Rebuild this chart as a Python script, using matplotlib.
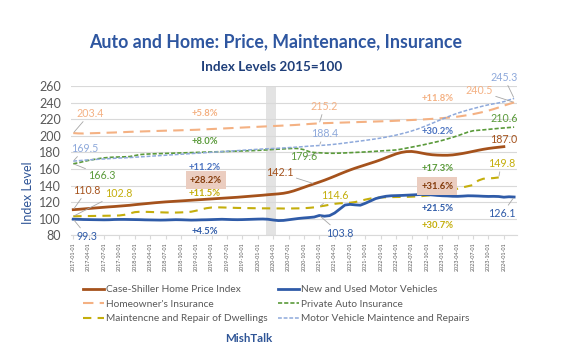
import matplotlib
matplotlib.use("Agg")
import matplotlib.pyplot as plt

plt.rcParams['font.family'] = ['Lato', 'DejaVu Sans']

# monthly index levels, 2017-01 onward
case_shiller = [
    110.8, 111.2, 111.7, 112.2, 112.7, 113.2, 113.7, 114.2, 114.6, 115.1, 115.6, 116.1,
    116.8, 117.4, 118.0, 118.6, 119.2, 119.7, 120.2, 120.6, 121.0, 121.4, 121.8, 122.2,
    122.6, 123.0, 123.4, 123.8, 124.2, 124.6, 125.0, 125.4, 125.8, 126.3, 126.8, 127.3,
    127.8, 128.3, 128.9, 129.4, 129.9, 130.6, 131.8, 133.5, 135.6, 137.8, 140.0, 142.1,
    144.2, 146.4, 148.8, 151.3, 153.9, 156.4, 158.8, 161.0, 163.0, 165.0, 167.0, 169.0,
    171.2, 173.6, 176.0, 178.3, 180.0, 181.0, 181.2, 180.4, 179.2, 178.0, 177.2, 176.8,
    176.6, 176.6, 177.0, 177.8, 178.8, 180.0, 181.3, 182.6, 183.8, 184.8, 185.6, 186.3,
    187.0]
motor_vehicles = [
    99.3, 99.1, 98.9, 98.8, 98.7, 98.6, 98.5, 98.6, 98.9, 99.0, 99.0, 98.9,
    98.8, 98.7, 98.5, 98.4, 98.3, 98.2, 98.3, 98.5, 98.7, 98.6, 98.4, 98.2,
    98.3, 98.5, 98.6, 98.8, 99.0, 99.2, 99.0, 98.8, 98.7, 98.8, 99.0, 99.2,
    99.4, 99.5, 99.2, 98.3, 97.6, 97.8, 98.6, 99.4, 100.2, 100.8, 101.3, 101.9,
    103.8, 102.9, 103.6, 106.8, 111.6, 116.4, 117.2, 116.6, 116.2, 118.6, 121.4, 124.2,
    125.8, 127.0, 127.6, 127.8, 128.0, 128.3, 128.6, 128.9, 129.2, 129.0, 128.6, 128.0,
    127.6, 127.4, 127.0, 126.9, 127.2, 127.6, 127.5, 127.3, 127.0, 126.8, 126.9, 126.7,
    125.9, 126.4, 126.1]
homeowners_ins = [
    203.4, 203.0, 202.9, 203.1, 203.3, 203.5, 203.7, 203.9, 204.1, 204.4, 204.6, 204.9,
    205.1, 205.3, 205.5, 205.7, 205.9, 206.1, 206.3, 206.5, 206.6, 206.8, 207.0, 207.2,
    207.4, 207.7, 208.0, 208.3, 208.6, 208.9, 209.2, 209.5, 209.8, 210.1, 210.4, 210.7,
    211.0, 211.3, 211.6, 211.9, 212.2, 212.5, 212.8, 213.1, 213.5, 213.9, 214.4, 214.8,
    215.2, 215.4, 215.6, 215.8, 216.0, 216.2, 216.4, 216.6, 216.8, 217.0, 217.2, 217.4,
    217.6, 217.8, 218.0, 218.3, 218.6, 218.9, 219.2, 219.5, 219.8, 220.2, 220.6, 221.0,
    221.5, 222.0, 222.6, 223.3, 224.2, 225.2, 226.3, 227.6, 229.0, 230.6, 232.4, 234.4,
    236.6, 238.6, 240.5]
auto_ins = [
    166.3, 167.5, 169.0, 170.4, 171.5, 172.6, 173.4, 174.0, 174.3, 174.5, 174.7, 175.0,
    176.2, 177.4, 177.9, 178.2, 178.4, 178.6, 178.8, 179.0, 179.2, 179.4, 179.6, 179.8,
    180.0, 180.2, 180.4, 180.6, 180.8, 181.0, 181.2, 181.4, 181.6, 181.8, 182.0, 182.2,
    182.5, 182.8, 183.2, 183.6, 184.0, 184.3, 184.6, 184.9, 184.7, 183.3, 181.0, 179.9,
    179.6, 179.2, 179.0, 179.0, 179.2, 179.4, 179.7, 180.0, 180.3, 180.6, 181.0, 181.4,
    181.8, 182.2, 182.6, 183.0, 184.0, 185.2, 186.4, 187.6, 188.8, 190.2, 191.6, 193.0,
    194.6, 196.4, 198.2, 200.2, 202.4, 204.6, 206.2, 206.8, 207.3, 207.9, 208.5, 209.1,
    209.6, 210.1, 210.6]
dwelling_repair = [
    102.8, 102.9, 103.0, 103.1, 103.2, 103.3, 103.4, 103.5, 103.6, 103.8, 104.6, 106.2,
    107.8, 108.3, 108.2, 108.0, 107.8, 107.6, 107.4, 107.3, 107.3, 107.5, 107.8, 108.3,
    109.6, 111.2, 112.6, 113.4, 113.6, 113.5, 113.3, 113.1, 112.9, 112.8, 112.7, 112.6,
    112.5, 112.4, 112.4, 112.3, 112.3, 112.2, 112.2, 112.3, 112.4, 112.6, 113.0, 113.6,
    114.6, 115.6, 116.8, 117.9, 118.5, 118.8, 119.2, 120.0, 121.5, 123.0, 124.3, 125.2,
    125.6, 125.8, 126.0, 126.1, 126.2, 126.3, 126.5, 126.8, 127.2, 127.8, 128.6, 129.6,
    131.0, 132.6, 134.4, 136.2, 137.8, 139.2, 140.6, 146.0, 148.2, 148.6, 149.0, 149.8]
vehicle_repair = [
    169.5, 170.0, 170.6, 171.0, 171.4, 171.8, 172.1, 172.5, 172.9, 173.2, 173.5, 173.8,
    174.2, 174.6, 175.0, 175.4, 175.8, 176.2, 176.6, 177.0, 177.4, 177.8, 178.2, 178.6,
    179.0, 179.4, 179.8, 180.2, 180.6, 181.0, 181.4, 181.8, 182.2, 182.6, 183.0, 183.4,
    183.8, 184.2, 184.5, 184.8, 185.1, 185.4, 185.8, 186.2, 186.6, 187.1, 187.6, 188.0,
    188.4, 188.8, 189.3, 189.9, 190.6, 191.4, 192.2, 193.0, 193.8, 194.6, 195.5, 196.4,
    197.4, 198.5, 199.7, 201.0, 202.5, 204.1, 205.9, 207.9, 210.2, 212.6, 215.2, 217.8,
    220.4, 222.9, 225.3, 227.5, 229.5, 231.3, 233.0, 234.6, 236.2, 237.6, 238.8, 239.9,
    241.4, 243.4, 245.3]

tick_labels = ['%d-%02d-01' % (y, m) for y in range(2017, 2025) for m in (1, 4, 7, 10)][:29]

c_brown = '#A5521C'
c_blue = '#2F5BA8'
c_orange = '#F4B183'
c_green = '#5A9A3A'
c_yellow = '#C4AE0C'
c_lblue = '#8EA9DB'

fig = plt.figure(figsize=(5.61, 3.64), dpi=100)
ax = fig.add_axes([0.126, 0.354, 0.795, 0.409])

ax.axvspan(37.6, 39.6, color='#E3E3E3', zorder=0, lw=0)

l1, = ax.plot(range(len(case_shiller)), case_shiller, color=c_brown, lw=2, label='Case-Shiller Home Price Index')
l2, = ax.plot(range(len(homeowners_ins)), homeowners_ins, color=c_orange, lw=1.5, dashes=(5, 3), label="Homeowner's Insurance")
l3, = ax.plot(range(len(dwelling_repair)), dwelling_repair, color=c_yellow, lw=1.5, dashes=(4, 3), label='Maintencne and Repair of Dwellings')
l4, = ax.plot(range(len(motor_vehicles)), motor_vehicles, color=c_blue, lw=2, label='New and Used Motor Vehicles')
l5, = ax.plot(range(len(auto_ins)), auto_ins, color=c_green, lw=1.2, dashes=(2.5, 1.2), label='Private Auto Insurance')
l6, = ax.plot(range(len(vehicle_repair)), vehicle_repair, color=c_lblue, lw=1.1, dashes=(2.5, 1.2), label='Motor Vehicle Maintence and Repairs')

ax.set_xlim(-0.5, 86.5)
ax.set_ylim(80, 260)
ax.set_yticks(range(80, 261, 20))
ax.set_xticks(range(0, 85, 3))
ax.set_xticklabels(tick_labels, rotation=90, fontsize=3.9, color='#595959')
ax.tick_params(axis='y', length=0, labelsize=9, labelcolor='#595959', pad=7)
ax.tick_params(axis='x', length=3, color='#D9D9D9', pad=2)
ax.grid(axis='y', color='#D9D9D9', lw=0.8)
ax.set_axisbelow(True)
for s in ['top', 'right', 'left']:
    ax.spines[s].set_visible(False)
ax.spines['bottom'].set_color('#D9D9D9')

lead = dict(arrowstyle='-', color='#A6A6A6', lw=0.6, shrinkA=0, shrinkB=1)

def val(x, y, txt, col, px, py, leader=True):
    ax.annotate(txt, xy=(x, y), xytext=(px, py), fontsize=7.7, color=col,
                ha='center', va='center', annotation_clip=False,
                arrowprops=lead if leader else None)

def pct(px, py, txt, col, box=None):
    bb = dict(boxstyle='square,pad=0.45', fc=box, ec='none') if box else None
    ax.text(px, py, txt, fontsize=6.8, fontweight='bold', color=col,
            ha='center', va='center', bbox=bb)

# starting values
val(0, homeowners_ins[0], '203.4', c_orange, 3.3, 227.3)
val(0, vehicle_repair[0], '169.5', c_lblue, 2.3, 185)
val(0, auto_ins[0], '166.3', c_green, 5.6, 152.5)
val(0, case_shiller[0], '110.8', c_brown, 2.7, 134.3)
val(0, dwelling_repair[0], '102.8', c_yellow, 8.8, 130.7)
val(0, motor_vehicles[0], '99.3', c_blue, 2.7, 78.8)

# mid values
val(48, homeowners_ins[48], '215.2', c_orange, 49, 235.8)
val(48, vehicle_repair[48], '188.4', c_lblue, 49, 202.8)
val(48, auto_ins[48], '179.6', c_green, 45, 174.6)
val(47, case_shiller[47], '142.1', c_brown, 40.3, 155.3)
val(48, dwelling_repair[48], '114.6', c_yellow, 51, 128.3)
val(48, motor_vehicles[48], '103.8', c_blue, 52, 82.4)

# end values
val(86, vehicle_repair[-1], '245.3', c_lblue, 84, 271)
val(86, homeowners_ins[-1], '240.5', c_orange, 79.2, 254.3)
val(86, auto_ins[-1], '210.6', c_green, 84, 221, leader=False)
val(84, case_shiller[-1], '187.0', c_brown, 84, 195.6, leader=False)
val(83, dwelling_repair[-1], '149.8', c_yellow, 83.5, 166.6)
val(86, motor_vehicles[-1], '126.1', c_blue, 83.7, 106.2)

# percent changes
pct(25.7, 227.3, '+5.8%', c_orange)
pct(25.7, 193.5, '+8.0%', c_green)
pct(25.7, 162, '+11.2%', '#4A72C0')
pct(25.9, 146.4, '+28.2%', '#843C0C', box='#EBCDC0')
pct(25.7, 130.7, '+11.5%', c_yellow)
pct(25.7, 84.8, '+4.5%', c_blue)

pct(71, 245, '+11.8%', c_orange)
pct(71, 204.8, '+30.2%', '#4A72C0')
pct(71, 160.5, '+17.3%', c_green)
pct(71, 139.2, '+31.6%', '#843C0C', box='#EBCDC0')
pct(71, 112.2, '+21.5%', c_blue)
pct(71, 91.2, '+30.7%', c_yellow)

fig.text(0.491, 1 - 42 / 364, 'Auto and Home: Price, Maintenance, Insurance',
         ha='center', va='center', fontsize=12.8, fontweight='bold', color='#2E56A0')
fig.text(0.485, 1 - 67 / 364, 'Index Levels 2015=100',
         ha='center', va='center', fontsize=9.7, fontweight='bold', color='#1F3F7A')
fig.text(28 / 561, 1 - 193 / 364, 'Index Level', rotation=90,
         ha='center', va='center', fontsize=9, color='#2F5597')

leg = fig.legend(handles=[l1, l2, l3, l4, l5, l6], ncol=2, frameon=False,
                 loc='upper left', bbox_to_anchor=(83 / 561, 1 - 285 / 364),
                 fontsize=7.3, handlelength=2.1, labelspacing=0.55,
                 columnspacing=1.0, handletextpad=0.2, borderpad=0, borderaxespad=0)
for t in leg.get_texts():
    t.set_color('#595959')

fig.text(249 / 561, 1 - 339 / 364, 'MishTalk', ha='center', va='center',
         fontsize=8.3, fontweight='bold', color='#2F5597')

fig.savefig('out.png', dpi=100)
